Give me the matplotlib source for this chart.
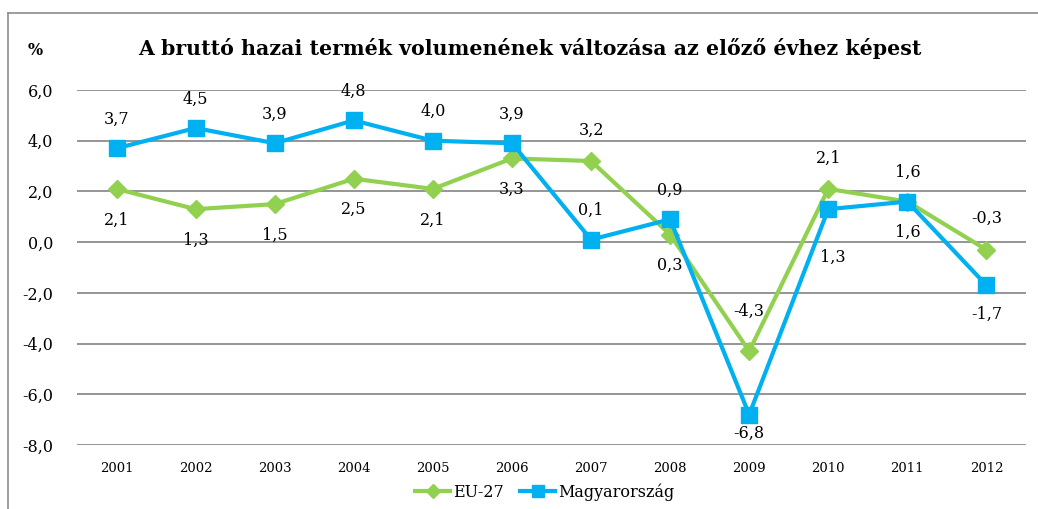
import matplotlib.pyplot as plt
from matplotlib.lines import Line2D

years = ["2001", "2002", "2003", "2004", "2005", "2006",
         "2007", "2008", "2009", "2010", "2011", "2012"]
eu27 = [2.1, 1.3, 1.5, 2.5, 2.1, 3.3, 3.2, 0.3, -4.3, 2.1, 1.6, -0.3]
hungary = [3.7, 4.5, 3.9, 4.8, 4.0, 3.9, 0.1, 0.9, -6.8, 1.3, 1.6, -1.7]
# címke helye: 1 = fölötte, -1 = alatta
eu_pos = [-1, -1, -1, -1, -1, -1, 1, -1, 1, 1, -1, 1]
hu_pos = [1, 1, 1, 1, 1, 1, 1, 1, -1, -1, 1, -1]

green = "#92D050"
blue = "#00B0F0"
grid_c = "#8C8C8C"
serif = "DejaVu Serif"

fig = plt.figure(figsize=(10.38, 5.09), dpi=100)
ax = fig.add_axes([0.0742, 0.1257, 0.9142, 0.6975])

x = list(range(len(years)))
ax.plot(x, eu27, color=green, lw=3, marker="D", ms=9, zorder=3)
ax.plot(x, hungary, color=blue, lw=3, marker="s", ms=11, zorder=4)


def fmt(v):
    return f"{v:.1f}".replace(".", ",")


# néhány címke egyedi eltolása (pixel)
eu_off = {8: (0, 40)}
hu_off = {8: (0, -19), 9: (5, -48)}

for i in x:
    dx, dy = eu_off.get(i, (0, 31 * eu_pos[i]))
    ax.annotate(fmt(eu27[i]), (i, eu27[i]), xytext=(dx, dy),
                textcoords="offset pixels", ha="center", va="center",
                fontsize=11.5, family=serif)
    dx, dy = hu_off.get(i, (0, 29 * hu_pos[i]))
    ax.annotate(fmt(hungary[i]), (i, hungary[i]), xytext=(dx, dy),
                textcoords="offset pixels", ha="center", va="center",
                fontsize=11.5, family=serif)

ax.set_xlim(-0.5, len(years) - 0.5)
ax.set_ylim(-8, 6)
ax.set_yticks(range(-8, 7, 2))
ax.set_yticklabels([fmt(v) for v in range(-8, 7, 2)], family=serif, fontsize=11.5)
ax.set_xticks(x)
ax.set_xticklabels(years, family=serif, fontsize=9.5)
ax.tick_params(length=0)
ax.tick_params(axis="y", pad=17)
ax.tick_params(axis="x", pad=12)
ax.grid(axis="y", color=grid_c, lw=1.3)
ax.set_axisbelow(True)
for s in ax.spines.values():
    s.set_visible(False)

fig.text(0.133, 0.905, "A bruttó hazai termék volumenének változása az előző évhez képest",
         fontsize=14.8, fontweight="bold", family=serif, va="center")
fig.text(0.027, 0.9, "%", fontsize=11.5, fontweight="bold", family=serif, va="center")

handles = [Line2D([], [], color=green, lw=3, marker="D", ms=7),
           Line2D([], [], color=blue, lw=3, marker="s", ms=9)]
fig.legend(handles, ["EU-27", "Magyarország"], loc="center", ncol=2,
           bbox_to_anchor=(0.525, 0.033), frameon=False,
           prop={"family": serif, "size": 11.5}, handlelength=2.2,
           handletextpad=0.2, columnspacing=1.0)

# keret
fig.add_artist(Line2D([8 / 1038, 1], [1 - 13 / 509, 1 - 13 / 509],
                      color=grid_c, lw=1.2, transform=fig.transFigure))
fig.add_artist(Line2D([8 / 1038, 8 / 1038], [0, 1 - 13 / 509],
                      color=grid_c, lw=1.2, transform=fig.transFigure))

fig.savefig("out.png", dpi=100)
